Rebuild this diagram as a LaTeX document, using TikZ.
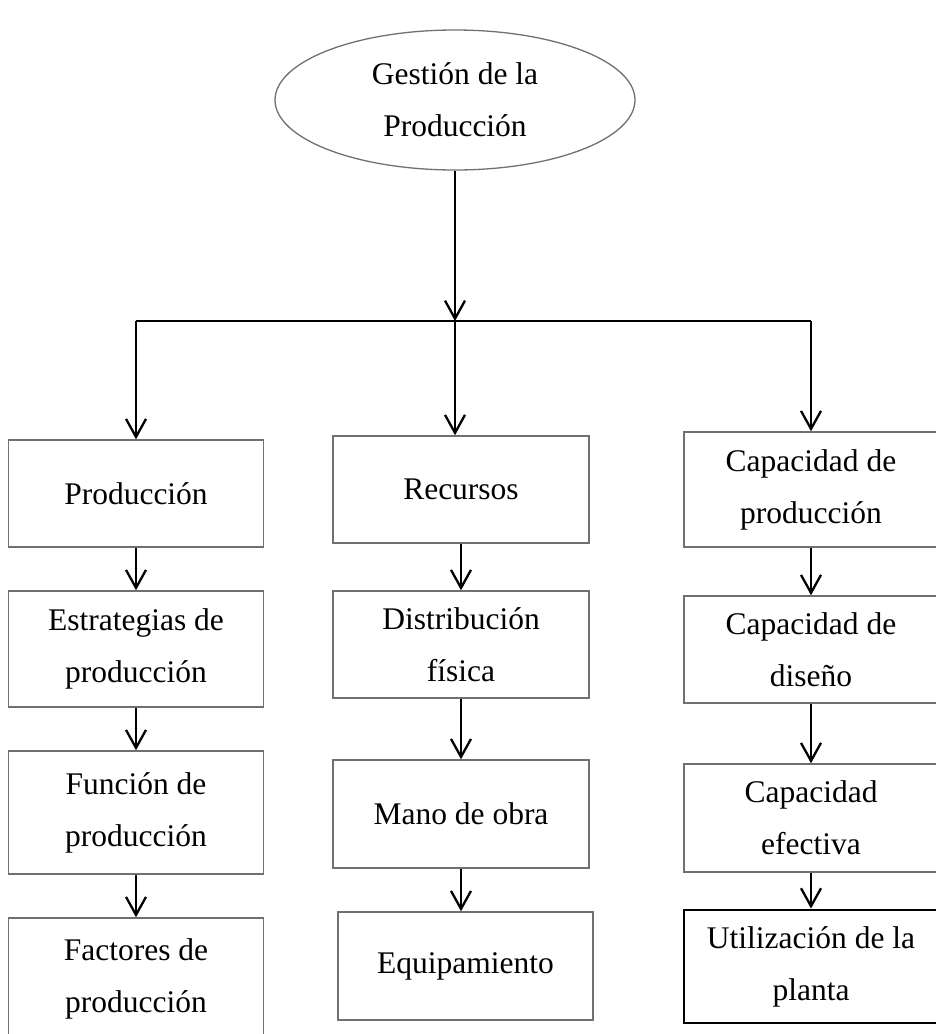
\documentclass[tikz,border=0pt]{standalone}
\usepackage{fontspec}
\setmainfont{Liberation Serif}
\usetikzlibrary{shapes.geometric,arrows.meta}
\definecolor{bordegris}{RGB}{112,112,112}
\begin{document}
\begin{tikzpicture}[x=1pt,y=-1pt]
            \tikzstyle{caja}=[rectangle,draw=bordegris,line width=1.5pt,inner sep=0pt,align=center,
                font=\fontsize{31.5}{52}\selectfont]
            \tikzstyle{flecha}=[-{Straight Barb[length=18pt,width=20pt]},line width=2.3pt]
            \useasboundingbox (0,0) rectangle (936,1034);
            \clip (0,0) rectangle (936,1034);
            \node[ellipse,draw=bordegris,line width=1.3pt,minimum width=360pt,minimum height=140pt,
                align=center,inner sep=0pt,font=\fontsize{31.5}{52}\selectfont] (gest) at (455,100) {Gestión de la\\Producción};
            \coordinate (j) at (455,321);
            \coordinate (jl) at (136,321);
            \coordinate (jr) at (811,321);
            \node[caja,minimum width=255pt,minimum height=107pt] (prod) at (136,493.5) {Producción};
            \node[caja,minimum width=255pt,minimum height=116pt] (estr) at (136,649) {Estrategias de\\producción};
            \node[caja,minimum width=255pt,minimum height=123pt] (func) at (136,812.5) {Función de\\producción};
            \node[caja,minimum width=255pt,minimum height=122pt] (fact) at (136,979) {Factores de\\producción};
            \node[caja,minimum width=256pt,minimum height=107pt] (rec) at (461,489.5) {Recursos};
            \node[caja,minimum width=256pt,minimum height=107pt] (dist) at (461,644.5) {Distribución\\física};
            \node[caja,minimum width=256pt,minimum height=108pt] (mano) at (461,814) {Mano de obra};
            \node[caja,minimum width=255pt,minimum height=108pt] (equi) at (465.5,966) {Equipamiento};
            \node[caja,minimum width=254pt,minimum height=115pt] (cap) at (811,489.5) {Capacidad de\\producción};
            \node[caja,minimum width=254pt,minimum height=107pt] (dis) at (811,649.5) {Capacidad de\\diseño};
            \node[caja,minimum width=254pt,minimum height=108pt] (efec) at (811,818) {Capacidad\\efectiva};
            \node[caja,draw=black,line width=2.8pt,minimum width=254pt,minimum height=113pt] (util) at (811,966.5) {Utilización de la\\planta};
            \draw[flecha] (gest) -- (j);
            \draw[line width=2.3pt] (jl) -- (jr);
            \draw[flecha] (jl) -- (prod);
            \draw[flecha] (j) -- (j |- rec.north);
            \draw[flecha] (jr) -- (cap);
            \draw[flecha] (prod) -- (estr);
            \draw[flecha] (estr) -- (func);
            \draw[flecha] (func) -- (fact);
            \draw[flecha] (rec) -- (dist);
            \draw[flecha] (dist) -- (mano);
            \draw[flecha] (mano.south) -- (mano.south |- equi.north);
            \draw[flecha] (cap) -- (dis);
            \draw[flecha] (dis) -- (efec);
            \draw[flecha] (efec) -- (util);
\end{tikzpicture}
\end{document}
